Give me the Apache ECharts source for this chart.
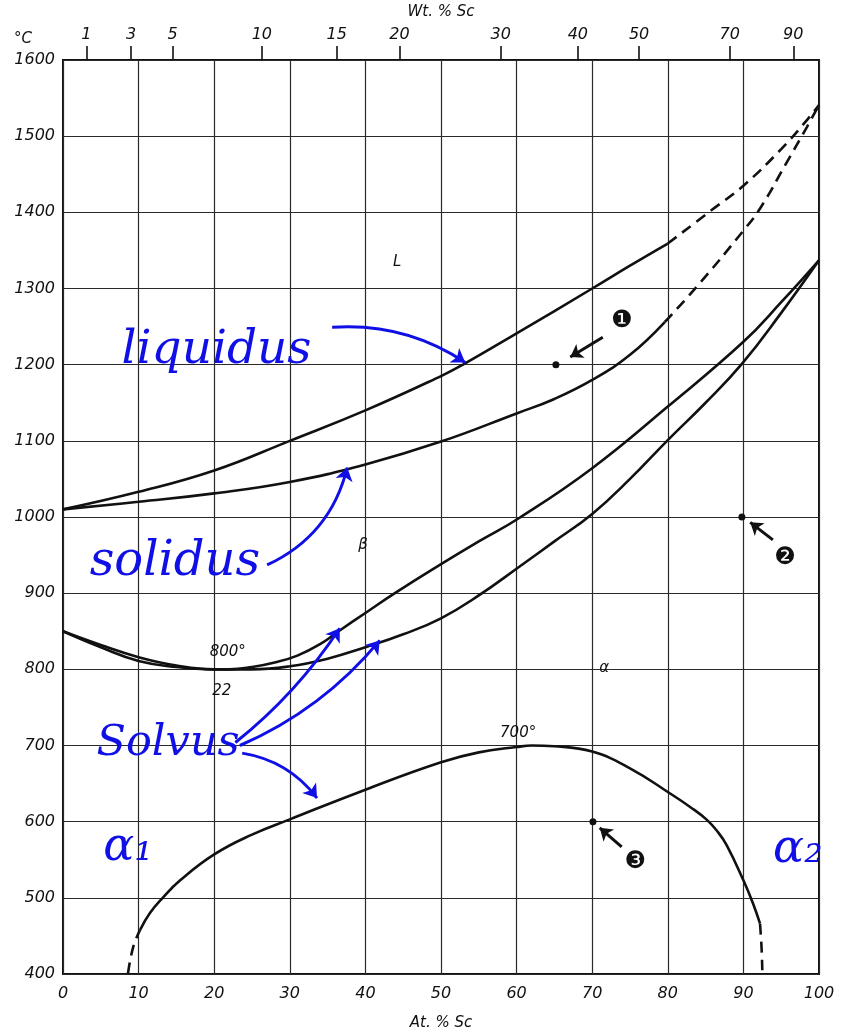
<!DOCTYPE html>
<html>
<head>
<meta charset="utf-8">
<script src="https://cdn.jsdelivr.net/npm/echarts@6/dist/echarts.min.js"></script>
<style>
html,body{margin:0;padding:0;background:#fff;}
#chart{width:841px;height:1032px;}
</style>
</head>
<body>
<div id="chart"></div>
<script>
// ---- axis ticks ----
const wtTickLabels = ['1','3','5','10','15','20','30','40','50','70','90'];
const wtTickAt = [3.1, 9.0, 14.5, 26.3, 36.2, 44.5, 57.9, 68.1, 76.2, 88.2, 96.6];

// ---- curves (At.% Sc, °C) ----
const liquidusSolid = [[0,1010],[10,1033],[20,1061],[30,1100],[40,1140],[50,1185],[52.9,1200],[60,1241],[70,1300],[75,1330],[80,1359]];
const liquidusDashed = [[80,1359],[85.8,1403],[90,1435],[95,1483],[98.4,1521],[100,1541]];
const solidusSolid = [[0,1010],[10,1020],[20,1031],[30,1046],[40,1069],[50,1099],[60,1136],[65,1155],[70,1180],[75,1213],[79.6,1256]];
const solidusDashed = [[79.6,1256],[83.8,1302],[90,1376],[92.2,1405],[95.7,1465],[98.4,1512],[100,1541]];
const solvusUpper = [[0,850],[5,832],[10,816],[15,805],[20,800],[22,800],[25,803],[28,809],[31,818],[34,833],[36.6,851],[40,874],[43.9,900],[50,938],[55,968],[60.4,999],[70,1064],[80,1145],[90,1230],[95,1282],[100,1337]];
const solvusLower = [[0,850],[5,829],[10,811],[15,803],[20,800],[25,800],[30,804],[35,814],[40,829],[45,846],[50,867],[55,897],[60.4,935],[65,968],[70,1004],[75,1050],[80,1101],[85,1150],[89.8,1201],[95,1268],[100,1337]];
const gapSolid = [[10.2,458],[11.5,480],[13.1,499],[15.5,523],[20,557],[25,583],[30,603],[40,642],[50,678],[55,691],[60,698],[62,700],[65,699],[70,692],[75,670],[80.3,637],[83,619],[85.1,603],[86.5,588],[87.8,569],[90,523],[91.3,492],[92.2,466]];
const gapDashLeft = [[8.6,401],[9.3,436],[10.2,458]];
const gapDashRight = [[92.2,466],[92.4,435],[92.5,405]];

// ---- marked points and their labels ----
const points = [[65.2,1200],[89.8,1000],[70.1,600]];
const pointLabels = [[73.9,1258,'❶'],[95.5,947,'❷'],[75.7,547,'❸']];
const pointArrows = [[[71.4,1236],[67.1,1210]],[[93.9,970],[90.9,993]],[[73.9,567],[71.0,592]]];

// ---- printed labels ----
const phaseLabels = [[44.2,1334,'L'],[39.7,963,'β'],[71.6,801,'α'],[21.8,822,'800°'],[21.0,772,'22'],[60.2,716,'700°']];

// ---- handwritten annotations ----
const noteLabels = [[20.3,1218,'liquidus'],[14.8,940,'solidus'],[13.9,702,'Solvus'],[8.6,565,'α₁'],[97.2,563,'α₂']];
const noteArrows = [
  [[[35.6,1249],[53.2,1203]], 0.17],
  [[[27.0,937],[37.6,1065]], -0.24],
  [[[22.8,704],[36.6,854]], -0.08],
  [[[23.4,700],[41.9,838]], -0.12],
  [[[23.7,690],[33.6,631]], 0.2]
];

const noteFontSize = {'liquidus':47, 'solidus':48, 'Solvus':43, 'α₁':46, 'α₂':46};

const chart = echarts.init(document.getElementById('chart'), null, {renderer:'canvas'});
const ink = '#111';
const blue = '#1010e6';
const labelFont = {fontFamily:'DejaVu Sans', fontStyle:'italic', fontSize:16, color:ink};
function curve(name, data, dashed){
  return {name, type:'line', data, smooth:0.45, showSymbol:false, silent:true, z:3,
    lineStyle:{color:ink, width:2.6, type: dashed ? [11,7] : 'solid'}};
}
function textSeries(data, labelStyle, z){
  return {type:'scatter', data:data.map(d=>({value:d, label: labelStyle(d)})), symbolSize:0, silent:true, z,
    itemStyle:{opacity:1},
    label:{show:true, position:'inside', formatter:p=>p.value[2]}};
}
const option = {
  backgroundColor:'#fff',
  animation:false,
  grid:{left:63, right:22, top:60, bottom:58, outerBoundsMode:'none', containLabel:false,
        show:true, borderColor:ink, borderWidth:2, backgroundColor:'transparent'},
  xAxis:[
    {type:'value', min:0, max:100, interval:10, position:'bottom',
     axisLine:{show:false}, axisTick:{show:false},
     axisLabel:Object.assign({margin:12}, labelFont),
     splitLine:{show:true, lineStyle:{color:'#2a2a2a', width:1.2}},
     name:'At. % Sc', nameLocation:'middle', nameGap:42,
     nameTextStyle:{fontFamily:'DejaVu Sans', fontStyle:'italic', fontSize:15, color:ink}},
    {type:'value', min:0, max:100, position:'top',
     axisLine:{show:false}, splitLine:{show:false},
     axisTick:{show:true, length:14, customValues:wtTickAt, lineStyle:{color:ink, width:1.6}},
     axisLabel:Object.assign({margin:17, customValues:wtTickAt, formatter:function(v){
        for(let i=0;i<wtTickAt.length;i++){ if(Math.abs(wtTickAt[i]-v)<1e-6) return wtTickLabels[i]; }
        return '';
     }}, labelFont),
     name:'Wt. % Sc', nameLocation:'middle', nameGap:40,
     nameTextStyle:{fontFamily:'DejaVu Sans', fontStyle:'italic', fontSize:15, color:ink}}
  ],
  yAxis:{type:'value', min:400, max:1600, interval:100,
    axisLine:{show:false}, axisTick:{show:false},
    axisLabel:Object.assign({margin:8, formatter:v=>String(v)}, labelFont),
    splitLine:{show:true, lineStyle:{color:'#2a2a2a', width:1.2}}},
  graphic:[{type:'text', left:14, top:32, style:{text:'°C', font:'italic 15px "DejaVu Sans"', fill:ink}}],
  series:[
    curve('liquidus', liquidusSolid, false),
    curve('liquidus-d', liquidusDashed, true),
    curve('solidus', solidusSolid, false),
    curve('solidus-d', solidusDashed, true),
    curve('solvus-u', solvusUpper, false),
    curve('solvus-l', solvusLower, false),
    curve('gap', gapSolid, false),
    curve('gap-dl', gapDashLeft, true),
    curve('gap-dr', gapDashRight, true),
    {type:'scatter', data:points, symbolSize:7, itemStyle:{color:ink, opacity:1}, z:5, silent:true},
    {type:'lines', coordinateSystem:'cartesian2d', polyline:false, silent:true, z:5,
     symbol:['none','arrow'], symbolSize:12,
     lineStyle:{color:ink, width:3, opacity:1},
     data:pointArrows.map(c=>({coords:c}))},
    textSeries(pointLabels, d=>({fontFamily:'DejaVu Sans', fontSize:24, color:ink}), 6),
    textSeries(phaseLabels, d=>({fontFamily:'DejaVu Sans', fontStyle:'italic', fontSize:15, color:ink}), 6),
    {type:'lines', coordinateSystem:'cartesian2d', polyline:false, silent:true, z:7,
     symbol:['none','arrow'], symbolSize:13,
     lineStyle:{color:blue, width:3, opacity:1},
     data:noteArrows.map(a=>({coords:a[0], lineStyle:{curveness:a[1]}}))},
    textSeries(noteLabels, d=>({fontFamily:'DejaVu Serif', fontStyle:'italic', fontSize:noteFontSize[d[2]], color:blue}), 8)
  ]
};
chart.setOption(option);
</script>
</body>
</html>
